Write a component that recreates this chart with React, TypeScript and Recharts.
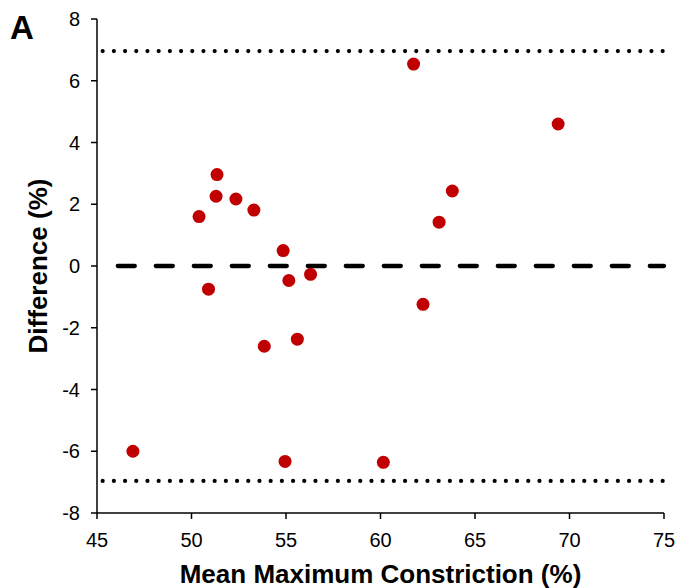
import React from "react";
import {
  ScatterChart,
  Scatter,
  XAxis,
  YAxis,
  ReferenceLine,
  Label,
} from "recharts";

const meanValues = [46.9, 50.4, 50.9, 51.35, 51.3, 52.35, 53.3, 53.85, 54.85, 55.15, 54.95, 55.6, 56.3, 60.15, 61.75, 62.25, 63.1, 63.8, 69.4];
const diffValues = [-6.0, 1.6, -0.75, 2.96, 2.26, 2.17, 1.81, -2.6, 0.5, -0.47, -6.33, -2.37, -0.27, -6.36, 6.54, -1.24, 1.42, 2.43, 4.6];
const xTicks = [45, 50, 55, 60, 65, 70, 75];
const yTicks = [-8, -6, -4, -2, 0, 2, 4, 6, 8];
const upperLimit = 6.96;
const lowerLimit = -6.96;
const meanDiff = 0;

const data = meanValues.map((x, i) => ({ x, y: diffValues[i] }));

const FONT = "'Liberation Sans', Arial, sans-serif";

export default function App() {
  return (
    <div style={{ position: "absolute", left: 0, top: 0, width: 679, height: 588, background: "#fff" }}>
      <ScatterChart
        width={679}
        height={588}
        margin={{ top: 19, right: 15, bottom: 0, left: 0 }}
      >
        <XAxis
          type="number"
          dataKey="x"
          domain={[45, 75]}
          ticks={xTicks}
          interval={0}
          height={75}
          axisLine={{ stroke: "#000", strokeWidth: 1.5 }}
          tickLine={{ stroke: "#000", strokeWidth: 1.5 }}
          tickSize={6}
          tickMargin={14}
          tick={{ fill: "#000", fontSize: 20, fontFamily: FONT }}
        >
          <Label
            value="Mean Maximum Constriction (%)"
            position="insideBottom"
            offset={5}
            style={{ fill: "#000", fontSize: 26, fontWeight: "bold", fontFamily: FONT }}
          />
        </XAxis>
        <YAxis
          type="number"
          dataKey="y"
          domain={[-8, 8]}
          ticks={yTicks}
          interval={0}
          width={97}
          axisLine={{ stroke: "#000", strokeWidth: 1.5 }}
          tickLine={{ stroke: "#000", strokeWidth: 1.5 }}
          tickSize={6}
          tickMargin={11}
          tick={{ fill: "#000", fontSize: 20, fontFamily: FONT }}
        >
          <Label
            value="Difference (%)"
            angle={-90}
            position="insideLeft"
            offset={38}
            style={{ fill: "#000", fontSize: 26, fontWeight: "bold", fontFamily: FONT, textAnchor: "middle" }}
          />
        </YAxis>
        <ReferenceLine
          segment={[{ x: 45.3, y: upperLimit }, { x: 75, y: upperLimit }]}
          stroke="#000"
          strokeWidth={4.2}
          strokeDasharray="0 11.2"
          strokeLinecap="round"
        />
        <ReferenceLine
          segment={[{ x: 45.3, y: lowerLimit }, { x: 75, y: lowerLimit }]}
          stroke="#000"
          strokeWidth={4.2}
          strokeDasharray="0 11.2"
          strokeLinecap="round"
        />
        <ReferenceLine
          segment={[{ x: 46.1, y: meanDiff }, { x: 75, y: meanDiff }]}
          stroke="#000"
          strokeWidth={4.3}
          strokeDasharray="17 21"
          strokeLinecap="round"
        />
        <Scatter
          data={data}
          fill="#C00000"
          isAnimationActive={false}
          shape={(props: any) => (
            <circle cx={props.cx} cy={props.cy} r={6.5} fill="#C00000" />
          )}
        />
      </ScatterChart>
      <div
        style={{
          position: "absolute",
          left: 10,
          top: 9,
          fontFamily: FONT,
          fontWeight: "bold",
          fontSize: 33,
          lineHeight: "38px",
          color: "#000",
        }}
      >
        A
      </div>
    </div>
  );
}
